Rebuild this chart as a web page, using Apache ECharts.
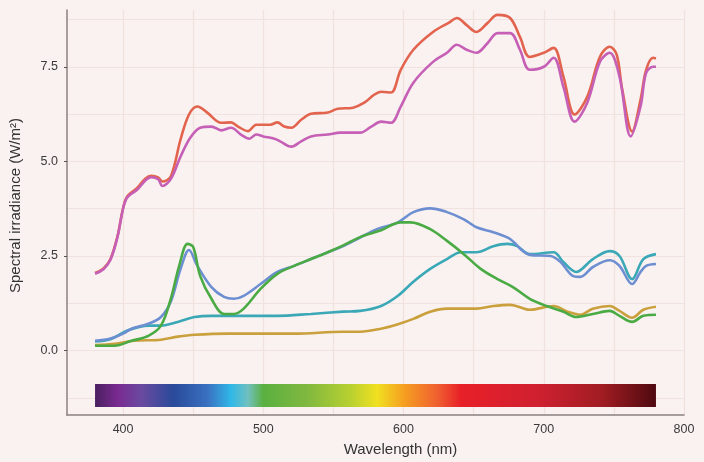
<!DOCTYPE html>
<html><head><meta charset="utf-8">
<script src="https://cdn.jsdelivr.net/npm/echarts@6/dist/echarts.min.js"></script>
<style>html,body{margin:0;padding:0;background:#faf2f0;}#c{width:704px;height:462px;}</style>
</head><body><div id="c"></div>
<script>
const xTickLabels = [400, 500, 600, 700, 800];
const xGridValues = [400, 450, 500, 550, 600, 650, 700, 750, 800];
const yTickLabels = [0, 2.5, 5, 7.5];
const yGridValues = [-1.25, 0, 1.25, 2.5, 3.75, 5, 6.25, 7.5, 8.75];

const redSeries = [[380,2.05],[386,2.17],[391,2.42],[396,3.02],[400,3.77],[403,4.08],[410,4.3],[416,4.55],[420,4.62],[425,4.58],[428,4.47],[434,4.6],[441,5.58],[447,6.24],[453,6.45],[460,6.29],[470,6.02],[477,6.03],[482,5.92],[489,5.8],[495,5.97],[505,5.97],[510,6.03],[515,5.92],[520,5.89],[527,6.1],[534,6.26],[546,6.29],[553,6.39],[564,6.42],[572,6.55],[579,6.76],[584,6.84],[591,6.82],[598,7.42],[607,7.95],[621,8.42],[633,8.68],[638,8.79],[645,8.6],[652,8.42],[660,8.66],[667,8.87],[676,8.79],[683,8.29],[690,7.76],[700,7.87],[707,8.0],[714,7.24],[722,6.24],[731,6.71],[740,7.76],[747,8.03],[752,7.82],[756,6.89],[763,5.79],[769,6.63],[773,7.42],[778,7.74],[780,7.72]];
const magentaSeries = [[380,2.03],[386,2.15],[391,2.4],[396,3.0],[400,3.75],[403,4.05],[410,4.25],[416,4.5],[420,4.58],[425,4.53],[428,4.35],[434,4.53],[441,5.13],[448,5.63],[455,5.89],[463,5.92],[470,5.82],[477,5.89],[484,5.71],[490,5.6],[495,5.71],[500,5.66],[508,5.6],[512,5.53],[520,5.39],[527,5.53],[534,5.66],[546,5.71],[555,5.76],[569,5.76],[577,5.92],[584,6.05],[591,6.02],[598,6.45],[607,7.08],[621,7.63],[631,7.87],[638,8.08],[645,7.95],[652,7.87],[660,8.13],[667,8.39],[676,8.39],[683,7.95],[690,7.42],[700,7.5],[707,7.74],[714,6.97],[722,6.05],[731,6.55],[740,7.63],[747,7.87],[754,7.24],[762,5.66],[769,6.45],[773,7.34],[778,7.5],[780,7.5]];
const blueSeries = [[380,0.26],[391,0.32],[400,0.45],[406,0.58],[418,0.71],[427,0.89],[434,1.29],[441,2.16],[447,2.66],[453,2.24],[463,1.68],[472,1.42],[479,1.37],[486,1.45],[498,1.76],[510,2.08],[522,2.24],[534,2.42],[546,2.6],[557,2.76],[569,2.99],[581,3.21],[596,3.39],[607,3.66],[619,3.76],[631,3.66],[643,3.47],[652,3.26],[664,3.13],[676,2.95],[685,2.63],[690,2.53],[705,2.5],[712,2.34],[721,1.97],[726,1.95],[735,2.21],[747,2.39],[754,2.24],[763,1.76],[769,2.08],[773,2.24],[780,2.29]];
const tealSeries = [[380,0.24],[391,0.3],[403,0.53],[418,0.66],[427,0.66],[439,0.76],[451,0.89],[463,0.92],[486,0.92],[510,0.92],[534,0.97],[557,1.03],[569,1.05],[584,1.18],[596,1.45],[607,1.82],[619,2.16],[631,2.42],[641,2.6],[652,2.6],[664,2.76],[674,2.82],[681,2.76],[690,2.55],[707,2.6],[714,2.34],[723,2.08],[735,2.42],[747,2.63],[754,2.5],[763,1.89],[771,2.42],[780,2.55]];
const greenSeries = [[380,0.13],[394,0.13],[406,0.26],[418,0.39],[427,0.66],[434,1.37],[440,2.24],[446,2.82],[450,2.74],[455,1.97],[463,1.37],[472,0.97],[479,0.97],[486,1.11],[498,1.63],[510,2.03],[522,2.24],[534,2.42],[546,2.6],[557,2.78],[569,3.0],[584,3.18],[598,3.39],[605,3.39],[619,3.21],[631,2.9],[643,2.55],[655,2.16],[667,1.89],[678,1.68],[690,1.37],[702,1.18],[714,1.03],[723,0.89],[735,0.97],[747,1.05],[754,0.92],[763,0.76],[771,0.92],[780,0.95]];
const goldSeries = [[380,0.15],[394,0.18],[408,0.26],[427,0.29],[439,0.37],[451,0.42],[475,0.45],[522,0.45],[557,0.5],[569,0.5],[584,0.58],[596,0.7],[607,0.84],[619,1.03],[631,1.11],[652,1.11],[664,1.18],[676,1.21],[690,1.08],[707,1.18],[717,1.03],[726,0.95],[735,1.11],[747,1.18],[754,1.05],[763,0.87],[771,1.08],[780,1.16]];

// spectrum colour bar: wavelength range and y extent
const spectrumBar = [[380, -0.88], [780, -1.49]];
const spectrumStops = [[380,'#4a2060'],[396,'#7a2a90'],[413,'#6a4aa0'],[436,'#2a4a9a'],[460,'#3a70c0'],[477,'#30b8e8'],[489,'#70c0c0'],[500,'#5ab040'],[531,'#80b840'],[562,'#b8d030'],[581,'#f0e020'],[600,'#f5a020'],[624,'#f06030'],[641,'#e82028'],[695,'#d02030'],[742,'#a01c22'],[780,'#4e0a10']];

const chart = echarts.init(document.getElementById('c'));
const gridColor = '#efe2df';
function lineS(name, data, color) {
  return {name, type:'line', data, smooth:0.35, symbol:'none', lineStyle:{color, width:2.6}, z:3};
}
chart.setOption({
  backgroundColor:'#faf2f0',
  animation:false,
  grid:{left:67, right:20, top:10, bottom:45},
  xAxis:[{
    type:'value', min:360, max:800,
    axisLine:{show:true, onZero:false, lineStyle:{color:'#8a8080', width:1.5}},
    axisTick:{show:false, customValues:xGridValues},
    axisLabel:{customValues:xTickLabels, color:'#3a3a3a', fontSize:12.5, fontFamily:'Liberation Sans, Arial, sans-serif', margin:8},
    splitLine:{show:true, lineStyle:{color:gridColor, width:1.2}},
    name:'Wavelength (nm)', nameLocation:'middle', nameGap:27,
    nameTextStyle:{color:'#333', fontSize:15, fontFamily:'Liberation Sans, Arial, sans-serif', padding:[0,0,0,50]}
  }],
  yAxis:[{
    type:'value', min:-1.7, max:9.0,
    axisLine:{show:true, onZero:false, lineStyle:{color:'#8a8080', width:1.5}},
    axisTick:{show:true, length:3, customValues:yTickLabels, lineStyle:{color:'#555'}},
    axisLabel:{customValues:yTickLabels, color:'#3a3a3a', fontSize:12.5, fontFamily:'Liberation Sans, Arial, sans-serif', margin:9, formatter:v=>v.toFixed(1)},
    splitLine:{show:false},
    name:'Spectral irradiance (W/m²)', nameLocation:'middle', nameGap:44, nameRotate:90,
    nameTextStyle:{color:'#333', fontSize:15, fontFamily:'Liberation Sans, Arial, sans-serif', padding:[0,0,0,14]}
  },{
    type:'value', min:-1.7, max:9.0, position:'left',
    axisLine:{show:false, onZero:false}, axisLabel:{show:false},
    axisTick:{show:false, customValues:yGridValues},
    splitLine:{show:true, lineStyle:{color:gridColor, width:1.2}}
  }],
  series:[
    {
      type:'custom', z:2,
      data:[[spectrumBar[0][0], spectrumBar[0][1], spectrumBar[1][0], spectrumBar[1][1]]],
      renderItem:function(params, api){
        const p0 = api.coord([api.value(0), api.value(1)]);
        const p1 = api.coord([api.value(2), api.value(3)]);
        const lo = spectrumStops[0][0], hi = spectrumStops[spectrumStops.length-1][0];
        return {
          type:'rect',
          shape:{x:p0[0], y:p0[1], width:p1[0]-p0[0], height:p1[1]-p0[1]},
          style:{fill:new echarts.graphic.LinearGradient(0,0,1,0, spectrumStops.map(s=>({offset:(s[0]-lo)/(hi-lo), color:s[1]})))}
        };
      }
    },
    lineS('Gold', goldSeries, '#c9a03c'),
    lineS('Teal', tealSeries, '#3aa8b6'),
    lineS('Blue', blueSeries, '#6d8fd2'),
    lineS('Green', greenSeries, '#4aaa44'),
    lineS('Red', redSeries, '#e2644e'),
    lineS('Magenta', magentaSeries, '#c660b6')
  ]
});
</script></body></html>
